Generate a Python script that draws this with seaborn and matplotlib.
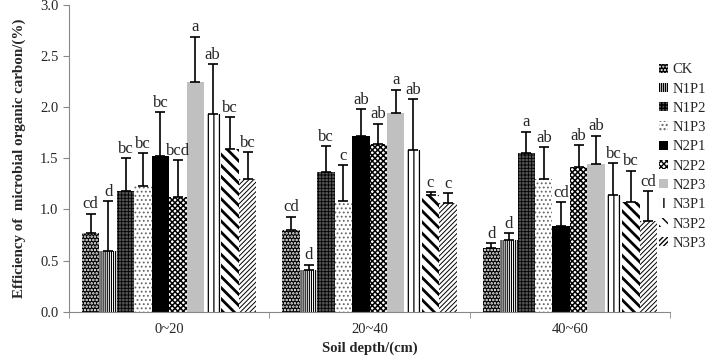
import pandas as pd
import matplotlib
matplotlib.use("Agg")
import matplotlib.pyplot as plt
from matplotlib.patches import Patch
import seaborn as sns

# Data
depths = ["0~20", "20~40", "40~60"]
treatments = ["CK", "N1P1", "N1P2", "N1P3", "N2P1", "N2P2", "N2P3", "N3P1", "N3P2", "N3P3"]

mean_0_20 = [0.77, 0.59, 1.18, 1.23, 1.52, 1.12, 2.25, 1.93, 1.59, 1.30]
sd_0_20 = [0.19, 0.49, 0.32, 0.32, 0.43, 0.36, 0.44, 0.49, 0.31, 0.26]
mean_20_40 = [0.80, 0.41, 1.37, 1.08, 1.72, 1.64, 1.94, 1.58, 1.14, 1.06]
sd_20_40 = [0.13, 0.05, 0.25, 0.35, 0.26, 0.20, 0.23, 0.50, 0.03, 0.10]
mean_40_60 = [0.62, 0.70, 1.55, 1.30, 0.84, 1.42, 1.44, 1.14, 1.07, 0.89]
sd_40_60 = [0.05, 0.07, 0.21, 0.31, 0.23, 0.21, 0.28, 0.31, 0.31, 0.29]

letters_0_20 = ["cd", "d", "bc", "bc", "bc", "bcd", "a", "ab", "bc", "bc"]
letters_20_40 = ["cd", "d", "bc", "c", "ab", "ab", "a", "ab", "c", "c"]
letters_40_60 = ["d", "d", "a", "ab", "cd", "ab", "ab", "bc", "bc", "cd"]

# Long table for seaborn
rows = []
for depth, means, sds, lets in [
    ("0~20", mean_0_20, sd_0_20, letters_0_20),
    ("20~40", mean_20_40, sd_20_40, letters_20_40),
    ("40~60", mean_40_60, sd_40_60, letters_40_60),
]:
    for t, m, s, l in zip(treatments, means, sds, lets):
        rows.append({"Depth": depth, "Treatment": t, "Value": m, "SD": s, "Letter": l})
df = pd.DataFrame(rows)

# Fill styles: (facecolor, hatchcolor, hatch, hatch linewidth)
styles = {
    "CK": ("black", "white", ".....", 1.2),
    "N1P1": ("white", "black", "||||||||", 0.8),
    "N1P2": ("#555555", "black", "+++++", 0.6),
    "N1P3": ("white", "#666666", "....", 0.8),
    "N2P1": ("black", "black", "", 1.0),
    "N2P2": ("white", "black", "xxxxxx", 1.1),
    "N2P3": ("#c0c0c0", "#c0c0c0", "", 1.0),
    "N3P1": ("white", "black", "|||", 0.9),
    "N3P2": ("white", "black", "\\\\\\", 2.0),
    "N3P3": ("white", "black", "///////", 0.7),
}


def style_patch(p, t):
    fc, hc, hatch, hlw = styles[t]
    p.set_facecolor(fc)
    p.set_edgecolor(hc)
    p.set_linewidth(0)
    p.set_hatch(hatch)
    if hasattr(p, "set_hatch_linewidth"):
        p.set_hatch_linewidth(hlw)


sns.set_style("ticks")
plt.rcParams["font.family"] = ["Liberation Serif", "DejaVu Serif"]

fig = plt.figure(figsize=(7.26, 3.56), dpi=100)
ax = fig.add_axes([0.095, 0.1245, 0.828, 0.8615])

sns.barplot(
    data=df, x="Depth", y="Value", hue="Treatment",
    order=depths, hue_order=treatments,
    width=0.87, gap=0, errorbar=None, legend=False, ax=ax,
)

for t, cont in zip(treatments, ax.containers):
    sub = df[df["Treatment"] == t].set_index("Depth").loc[depths]
    for bar, (_, r) in zip(cont.patches, sub.iterrows()):
        style_patch(bar, t)
        xc = bar.get_x() + bar.get_width() / 2
        top = bar.get_height()
        ax.errorbar(xc, top, yerr=[[0], [r["SD"]]], fmt="none",
                    ecolor="black", elinewidth=1.2, capsize=3.5, capthick=1.2)
        ax.annotate(r["Letter"], (xc, top + r["SD"]), xytext=(0, 1),
                    textcoords="offset points", ha="center", va="bottom",
                    fontsize=12)

ax.set_ylim(0, 3.0)
ax.set_xlim(-0.5, 2.5)
ax.set_yticks([0, 0.5, 1.0, 1.5, 2.0, 2.5, 3.0])
ax.set_yticklabels(["0.0", "0.5", "1.0", "1.5", "2.0", "2.5", "3.0"])
ax.set_xticks([-0.5, 0.5, 1.5, 2.5], minor=True)
ax.tick_params(axis="x", which="major", length=0, labelsize=10.5, pad=8)
ax.tick_params(axis="x", which="minor", length=4, color="#888888")
ax.tick_params(axis="y", length=4, color="#888888", labelsize=10.5)

for side in ["top", "right"]:
    ax.spines[side].set_visible(False)
for side in ["left", "bottom"]:
    ax.spines[side].set_color("#888888")

ax.set_xlabel("Soil depth/(cm)", fontsize=10.5, fontweight="bold", labelpad=4)
ax.set_ylabel("Efficiency of  microbial organic carbon/(%)", fontsize=10.8,
              fontweight="bold", labelpad=10)

handles = []
for t in treatments:
    p = Patch(label=t)
    style_patch(p, t)
    handles.append(p)
fig.legend(handles=handles, loc="upper left", bbox_to_anchor=(0.908, 0.822),
           frameon=False, fontsize=10.5, handlelength=0.6, handleheight=0.6,
           handletextpad=0.3, labelspacing=0.43, borderpad=0, borderaxespad=0)

fig.savefig("out.png", dpi=100)
